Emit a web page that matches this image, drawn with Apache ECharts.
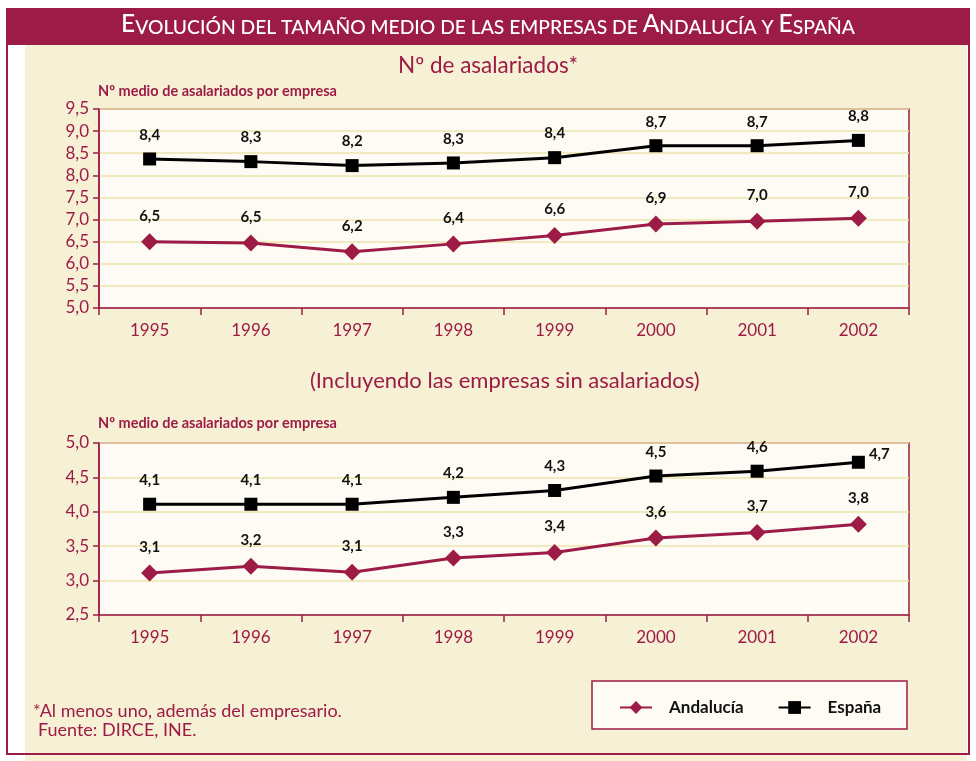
<!DOCTYPE html>
<html>
<head>
<meta charset="utf-8">
<script src="https://cdn.jsdelivr.net/npm/echarts@6/dist/echarts.min.js"></script>
<style>html,body{margin:0;padding:0;background:#fff}#c{width:976px;height:761px}</style>
</head>
<body>
<div id="c"></div>
<script>
const years = ['1995','1996','1997','1998','1999','2000','2001','2002'];
// Top chart: Nº de asalariados*
const andaluciaTop = [6.50, 6.47, 6.27, 6.45, 6.64, 6.90, 6.96, 7.03];
const espanaTop = [8.37, 8.31, 8.22, 8.28, 8.40, 8.67, 8.67, 8.79];
const andaluciaTopLabels = ['6,5','6,5','6,2','6,4','6,6','6,9','7,0','7,0'];
const espanaTopLabels = ['8,4','8,3','8,2','8,3','8,4','8,7','8,7','8,8'];
// Bottom chart: incluyendo empresas sin asalariados
const andaluciaBot = [3.11, 3.21, 3.12, 3.33, 3.41, 3.62, 3.70, 3.82];
const espanaBot = [4.11, 4.11, 4.11, 4.21, 4.31, 4.52, 4.59, 4.72];
const andaluciaBotLabels = ['3,1','3,2','3,1','3,3','3,4','3,6','3,7','3,8'];
const espanaBotLabels = ['4,1','4,1','4,1','4,2','4,3','4,5','4,6','4,7'];

const CRIMSON = '#9D1B47';
const FONT = 'Lato';

const chart = echarts.init(document.getElementById('c'));

function yAxis(idx, min, max) {
  return {
    type: 'value', gridIndex: idx, min: min, max: max, interval: 0.5,
    axisLine: {show: true, lineStyle: {color: CRIMSON, width: 1.5}},
    axisTick: {show: true, length: 6, lineStyle: {color: CRIMSON, width: 1.5}},
    axisLabel: {color: CRIMSON, fontSize: 17, fontFamily: FONT, margin: 10,
      formatter: v => v.toFixed(1).replace('.', ',')},
    splitLine: {show: true, lineStyle: {color: '#EEE5AE', width: 1.5}}
  };
}
function xAxis(idx) {
  return {
    type: 'category', gridIndex: idx, data: years, boundaryGap: true,
    axisLine: {show: true, lineStyle: {color: CRIMSON, width: 1.5}},
    axisTick: {show: true, length: 7, alignWithLabel: false, lineStyle: {color: CRIMSON, width: 1.5}},
    axisLabel: {color: CRIMSON, fontSize: 17, fontFamily: FONT, margin: 14}
  };
}
function mkLabels(labels) {
  return {
    show: true, position: 'top', distance: 10, color: '#111', fontWeight: 'bold',
    fontSize: 15, fontFamily: FONT,
    formatter: p => labels[p.dataIndex]
  };
}
function andSeries(idx, data, labels) {
  return {
    name: 'Andalucía', type: 'line', xAxisIndex: idx, yAxisIndex: idx, data: data,
    symbol: 'diamond', symbolSize: 17, color: CRIMSON,
    lineStyle: {color: CRIMSON, width: 3}, itemStyle: {color: CRIMSON},
    label: mkLabels(labels), animation: false, z: 3
  };
}
function espSeries(idx, data, labels, lastRight) {
  const d = data.map((v, i) => {
    if (lastRight && i === data.length - 1) {
      return {value: v, label: {position: 'right', distance: 4, offset: [0, -8]}};
    }
    return v;
  });
  return {
    name: 'España', type: 'line', xAxisIndex: idx, yAxisIndex: idx, data: d,
    symbol: 'rect', symbolSize: 13, color: '#000',
    lineStyle: {color: '#000', width: 3}, itemStyle: {color: '#000'},
    label: mkLabels(labels), animation: false, z: 4
  };
}

chart.setOption({
  animation: false,
  textStyle: {fontFamily: FONT},
  grid: [
    {left: 99, top: 109, width: 810, height: 199, show: true, backgroundColor: '#FDFBF3', borderColor: CRIMSON, borderWidth: 1.5},
    {left: 99, top: 443, width: 810, height: 172, show: true, backgroundColor: '#FDFBF3', borderColor: CRIMSON, borderWidth: 1.5}
  ],
  xAxis: [xAxis(0), xAxis(1)],
  yAxis: [yAxis(0, 5, 9.5), yAxis(1, 2.5, 5)],
  legend: {
    data: ['Andalucía', 'España'], left: 614, top: 694, itemWidth: 32, itemHeight: 16, itemGap: 34,
    textStyle: {color: '#111', fontWeight: 'bold', fontSize: 17, fontFamily: FONT, padding: [0, 0, 0, 12]},
    selectedMode: false
  },
  graphic: [
    {type: 'rect', z: -10, shape: {x: 25, y: 44, width: 942, height: 717}, style: {fill: '#F6F0D4'}},
    {type: 'rect', z: -9, shape: {x: 7, y: 44, width: 962, height: 710}, style: {fill: 'none', stroke: CRIMSON, lineWidth: 2}},
    {type: 'rect', z: -8, shape: {x: 6, y: 8, width: 964, height: 37}, style: {fill: CRIMSON}},
    {type: 'text', z: 10, left: 'center', top: 12, style: {
      text: '{b|E}{s|VOLUCIÓN DEL TAMAÑO MEDIO DE LAS EMPRESAS DE }{b|A}{s|NDALUCÍA Y }{b|E}{s|SPAÑA}',
      rich: {
        b: {fill: '#fff', fontSize: 24.5, fontFamily: FONT, fontWeight: 500, verticalAlign: 'bottom', lineHeight: 27},
        s: {fill: '#fff', fontSize: 19.3, fontFamily: FONT, fontWeight: 500, verticalAlign: 'bottom', lineHeight: 27}
      }
    }},
    {type: 'text', left: 'center', top: 54, style: {text: 'Nº de asalariados*', fill: CRIMSON, fontSize: 22.5, fontFamily: FONT}},
    {type: 'text', left: 310, top: 370, style: {text: '(Incluyendo las empresas sin asalariados)', fill: CRIMSON, fontSize: 22, fontFamily: FONT}},
    {type: 'text', left: 98, top: 84, style: {text: 'Nº medio de asalariados por empresa', fill: CRIMSON, fontSize: 14.5, fontWeight: 'bold', fontFamily: FONT}},
    {type: 'text', left: 98, top: 416, style: {text: 'Nº medio de asalariados por empresa', fill: CRIMSON, fontSize: 14.5, fontWeight: 'bold', fontFamily: FONT}},
    {type: 'rect', z: -5, shape: {x: 592, y: 681, width: 315, height: 48}, style: {fill: '#FDFBF3', stroke: CRIMSON, lineWidth: 1.5}},
    {type: 'text', left: 33, top: 702, style: {text: '*Al menos uno, además del empresario.', fill: CRIMSON, fontSize: 18, fontFamily: FONT}},
    {type: 'text', left: 38, top: 721, style: {text: 'Fuente: DIRCE, INE.', fill: CRIMSON, fontSize: 18, fontFamily: FONT}}
  ],
  series: [
    andSeries(0, andaluciaTop, andaluciaTopLabels),
    espSeries(0, espanaTop, espanaTopLabels, false),
    andSeries(1, andaluciaBot, andaluciaBotLabels),
    espSeries(1, espanaBot, espanaBotLabels, true)
  ]
});
</script>
</body>
</html>
